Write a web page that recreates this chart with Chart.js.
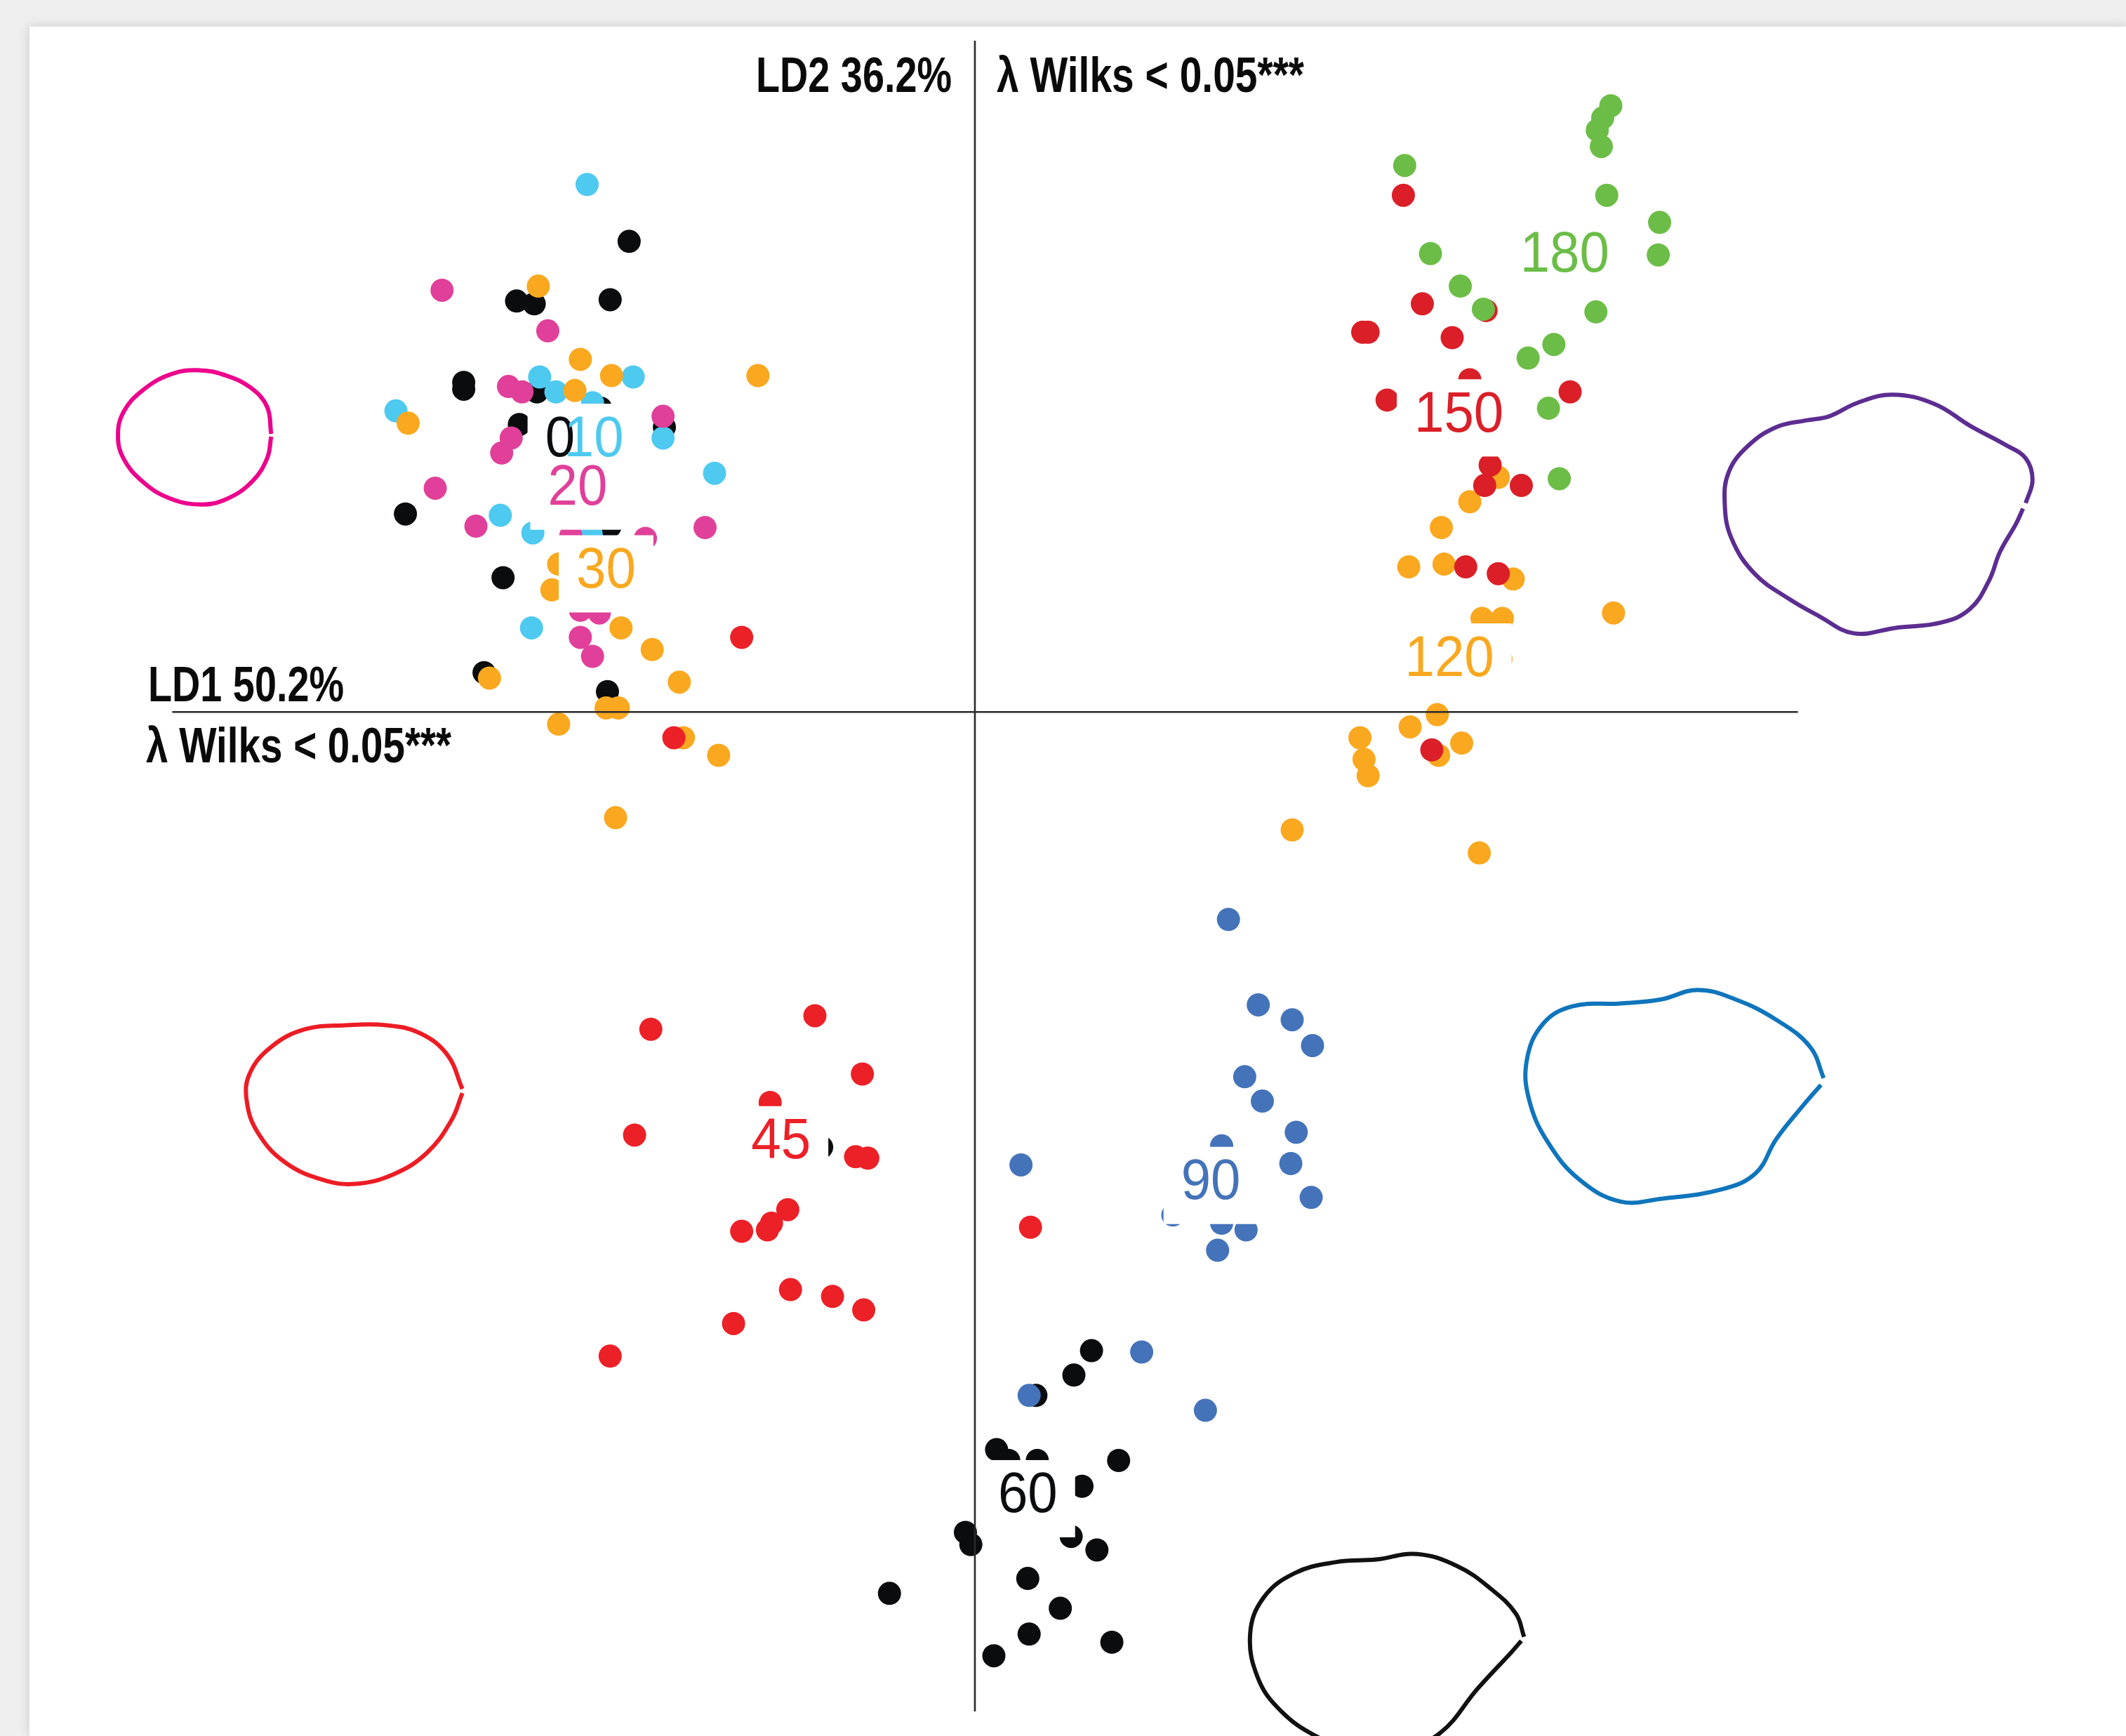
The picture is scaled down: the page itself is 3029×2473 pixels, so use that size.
<!DOCTYPE html>
<html><head><meta charset="utf-8">
<script src="https://cdn.jsdelivr.net/npm/chart.js@4.4.1/dist/chart.umd.min.js"></script>
<style>
html,body{margin:0;padding:0;background:#efefef;width:3029px;height:2473px;overflow:hidden;}
#panel{position:absolute;left:42px;top:38px;width:2987px;height:2435px;background:#fff;box-shadow:0 0 16px rgba(0,0,0,0.16);}
canvas{display:block;}
</style></head><body>
<div id="panel"><canvas id="c" width="2987" height="2435"></canvas></div>
<script>
// ---- DATA (LD1, LD2 scores) ----
const ld0 = [[-2.55,3.47],[-3.38,3.03],[-3.25,3.01],[-2.69,3.04],[-3.77,2.43],[-3.77,2.38],[-3.23,2.36],[-2.76,2.24],[-3.36,2.12],[-2.29,2.10],[-4.20,1.46],[-2.69,1.37],[-3.48,0.99],[-3.62,0.29],[-2.71,0.15]];
const ld10 = [[-2.86,3.89],[-3.21,2.47],[-3.09,2.36],[-2.52,2.47],[-2.82,2.28],[-4.27,2.22],[-2.30,2.02],[-1.92,1.76],[-3.50,1.45],[-3.26,1.32],[-2.83,1.31],[-3.27,0.62]];
const ld20 = [[-3.93,3.11],[-3.15,2.81],[-3.44,2.40],[-3.34,2.36],[-2.30,2.18],[-3.42,2.02],[-3.49,1.91],[-3.98,1.65],[-3.68,1.37],[-1.99,1.36],[-2.43,1.28],[-2.98,1.30],[-2.91,0.75],[-2.77,0.73],[-2.91,0.55],[-2.82,0.41]];
const ld30 = [[-3.22,3.14],[-2.91,2.60],[-2.95,2.37],[-2.68,2.48],[-1.60,2.48],[-4.18,2.13],[-2.56,1.90],[-3.07,1.09],[-3.12,0.90],[-2.61,0.62],[-2.38,0.46],[-3.58,0.25],[-2.18,0.22],[-2.72,0.03],[-2.63,0.03],[-3.07,-0.09],[-2.15,-0.19],[-1.89,-0.32],[-2.65,-0.78]];
const ld45 = [[-2.39,-2.34],[-1.18,-2.24],[-0.83,-2.67],[-1.51,-2.88],[-2.51,-3.12],[-0.88,-3.28],[-0.79,-3.29],[-1.38,-3.67],[-1.50,-3.77],[-1.53,-3.82],[-1.72,-3.83],[-1.36,-4.26],[-1.05,-4.31],[-0.82,-4.41],[-1.78,-4.51],[-2.69,-4.75],[0.41,-3.80],[-1.72,0.55],[-2.22,-0.19]];
const ld60 = [[0.86,-4.71],[0.73,-4.89],[0.45,-5.04],[0.16,-5.44],[0.25,-5.52],[0.46,-5.52],[1.06,-5.52],[0.79,-5.71],[-0.07,-6.05],[-0.03,-6.14],[0.71,-6.08],[0.90,-6.18],[0.39,-6.39],[0.63,-6.61],[-0.63,-6.50],[0.40,-6.80],[1.01,-6.86],[0.14,-6.96],[-1.13,-3.21]];
const ld90 = [[1.87,-1.53],[2.09,-2.16],[2.34,-2.27],[2.49,-2.46],[1.99,-2.69],[2.12,-2.87],[2.37,-3.10],[1.82,-3.20],[0.34,-3.34],[2.33,-3.33],[2.48,-3.58],[1.46,-3.71],[1.82,-3.77],[2.00,-3.82],[1.79,-3.97],[1.23,-4.72],[0.40,-5.04],[1.70,-5.15]];
const ld120 = [[3.86,1.73],[3.65,1.55],[3.44,1.36],[3.20,1.07],[3.46,1.09],[3.97,0.98],[4.71,0.73],[3.74,0.69],[3.89,0.69],[3.88,0.39],[3.41,-0.02],[3.21,-0.11],[2.84,-0.19],[2.87,-0.35],[2.90,-0.47],[3.42,-0.32],[3.59,-0.23],[3.72,-1.04],[2.34,-0.87]];
const ld150 = [[3.16,3.81],[3.30,3.01],[3.77,2.96],[2.86,2.80],[2.90,2.80],[3.52,2.76],[3.65,2.45],[3.04,2.30],[4.39,2.36],[3.80,1.82],[3.76,1.67],[4.03,1.67],[3.62,1.07],[3.86,1.02],[3.37,-0.28]];
const ld180 = [[4.69,4.47],[4.63,4.38],[4.59,4.29],[4.62,4.17],[3.17,4.03],[4.66,3.81],[5.05,3.61],[5.04,3.37],[3.36,3.38],[3.58,3.14],[3.75,2.97],[4.58,2.95],[4.27,2.71],[4.08,2.61],[4.23,2.24],[4.31,1.72]];

// group labels (centroid positions)
const labelNames = ['0','10','20','30','45','60','90','120','150','180'];
const labelX = [-3.06,-2.81,-2.93,-2.72,-1.43,0.39,1.74,3.50,3.57,4.35];
const labelY = [2.04,2.04,1.68,1.07,-3.14,-5.75,-3.44,0.42,2.22,3.40];

// outline shapes
const outlinePink = [[-5.19,2.05],[-5.22,2.25],[-5.34,2.39],[-5.52,2.48],[-5.72,2.52],[-5.93,2.49],[-6.14,2.37],[-6.28,2.21],[-6.32,2.04],[-6.28,1.87],[-6.14,1.70],[-5.95,1.58],[-5.72,1.53],[-5.52,1.57],[-5.33,1.70],[-5.22,1.87],[-5.19,2.03]];
const outlineRed = [[-3.78,-2.78],[-3.89,-2.53],[-4.09,-2.37],[-4.34,-2.31],[-4.64,-2.31],[-4.94,-2.34],[-5.19,-2.47],[-5.35,-2.67],[-5.37,-2.87],[-5.29,-3.10],[-5.09,-3.32],[-4.81,-3.45],[-4.57,-3.48],[-4.29,-3.41],[-4.04,-3.25],[-3.86,-3.01],[-3.78,-2.81]];
const outlineBlue = [[6.26,-2.70],[6.16,-2.47],[5.91,-2.27],[5.61,-2.12],[5.33,-2.05],[5.06,-2.12],[4.76,-2.15],[4.41,-2.17],[4.19,-2.30],[4.07,-2.57],[4.09,-2.87],[4.23,-3.18],[4.46,-3.45],[4.76,-3.61],[5.06,-3.59],[5.51,-3.52],[5.76,-3.40],[5.91,-3.15],[6.11,-2.90],[6.24,-2.75]];
const outlinePurple = [[7.75,1.54],[7.80,1.71],[7.75,1.87],[7.60,1.97],[7.34,2.11],[7.08,2.27],[6.77,2.34],[6.51,2.28],[6.30,2.18],[6.13,2.15],[5.91,2.10],[5.70,1.96],[5.56,1.77],[5.53,1.54],[5.58,1.28],[5.75,1.02],[6.01,0.83],[6.22,0.71],[6.48,0.58],[6.79,0.62],[7.13,0.66],[7.34,0.76],[7.48,0.97],[7.56,1.18],[7.68,1.39],[7.73,1.50]];
const outlineBlack = [[4.05,-6.82],[3.99,-6.65],[3.81,-6.47],[3.56,-6.30],[3.26,-6.21],[2.96,-6.25],[2.66,-6.27],[2.36,-6.35],[2.13,-6.53],[2.03,-6.80],[2.09,-7.13],[2.26,-7.37],[2.51,-7.55],[2.81,-7.67],[3.11,-7.67],[3.43,-7.53],[3.71,-7.20],[3.96,-6.93],[4.03,-6.85]];

// axis lines
const axisV = [[0,4.95],[0,-7.37]];
const axisH = [[-5.92,0],[6.07,0]];

// ---- STYLE ----
const groupData = [ld0, ld10, ld20, ld30, ld45, ld60, ld90, ld120, ld150, ld180];
const groupColors = ['#0b0c0e','#4ec9f0','#e0409a','#f9a81f','#ec2027','#0b0c0e','#4473b9','#f9a81f','#da1f28','#6cbd47'];
const labelColors = ['#0b0c0e','#4ec9f0','#e0409a','#f9a81f','#ec2027','#0b0c0e','#4473b9','#f9a81f','#da1f28','#6cbd47'];
const outlines = [[outlinePink,'#ec008c'],[outlineRed,'#ed1c24'],[outlineBlue,'#0f75bc'],[outlinePurple,'#5c2d91'],[outlineBlack,'#111111']];

const toXY = a => a.map(p => ({x:p[0], y:p[1]}));
const datasets = [];
outlines.forEach(([pts,col]) => datasets.push({
  type:'line', data: toXY(pts), showLine:true, fill:false, borderColor:col, borderWidth:6,
  pointRadius:0, tension:0.4, order:300
}));
groupData.forEach((pts,i) => datasets.push({
  type:'scatter', data: toXY(pts), backgroundColor: groupColors[i], borderColor: groupColors[i],
  pointRadius:16.5, pointHoverRadius:16.5, borderWidth:0, pointBorderWidth:0, order:100 - i
}));
[axisV, axisH].forEach(pts => datasets.push({
  type:'line', data: toXY(pts), showLine:true, fill:false, borderColor:'#2a2a2a', borderWidth:2.6,
  pointRadius:0, tension:0, order:0
}));

const XMIN = -6.9726, XMAX = 8.4896, YMIN = -7.5517, YMAX = 5.0533;

function fitText(ctx, text, left, right, baseline, font) {
  ctx.save();
  ctx.font = font;
  const w = ctx.measureText(text).width;
  ctx.translate(left, baseline);
  ctx.scale((right - left) / w, 1);
  ctx.textAlign = 'left';
  ctx.textBaseline = 'alphabetic';
  ctx.fillStyle = '#0a0a0a';
  ctx.fillText(text, 0, 0);
  ctx.restore();
}

const annot = {
  id: 'annot',
  afterDatasetsDraw(chart) {
    const ctx = chart.ctx, xs = chart.scales.x, ys = chart.scales.y;
    ctx.save();
    const FONT = '82px "Liberation Sans", Arial, sans-serif';
    const SX = 0.93, CAP = 59;
    ctx.font = FONT;
    const items = labelNames.map((t,i) => ({
      t, px: xs.getPixelForValue(labelX[i]), py: ys.getPixelForValue(labelY[i]),
      w: ctx.measureText(t).width * SX, c: labelColors[i]
    }));
    ctx.fillStyle = '#ffffff';
    items.forEach(it => ctx.fillRect(it.px - it.w/2 - 25, it.py + 10 - 55, it.w + 50, 110));
    items.forEach(it => {
      ctx.save();
      ctx.translate(it.px, it.py + CAP/2);
      ctx.scale(SX, 1);
      ctx.font = FONT;
      ctx.fillStyle = it.c;
      ctx.textAlign = 'center';
      ctx.textBaseline = 'alphabetic';
      ctx.fillText(it.t, 0, 0);
      ctx.restore();
    });
    const BF = 'bold 70px "Liberation Sans Narrow", "Liberation Sans", Arial, sans-serif';
    fitText(ctx, 'LD2 36.2%', 1035, 1314, 93, BF);
    fitText(ctx, 'λ Wilks < 0.05***', 1378, 1816, 93, BF);
    fitText(ctx, 'LD1 50.2%', 169, 448, 961, BF);
    fitText(ctx, 'λ Wilks < 0.05***', 166, 601, 1048, BF);
    ctx.restore();
  }
};

new Chart(document.getElementById('c'), {
  type: 'scatter',
  data: { datasets },
  options: {
    responsive: false, animation: false, events: [],
    layout: { padding: 0, autoPadding: false },
    plugins: { legend: {display:false}, tooltip: {enabled:false}, title: {display:false} },
    scales: {
      x: { type:'linear', min:XMIN, max:XMAX, display:false },
      y: { type:'linear', min:YMIN, max:YMAX, display:false }
    }
  },
  plugins: [annot]
});
</script></body></html>
